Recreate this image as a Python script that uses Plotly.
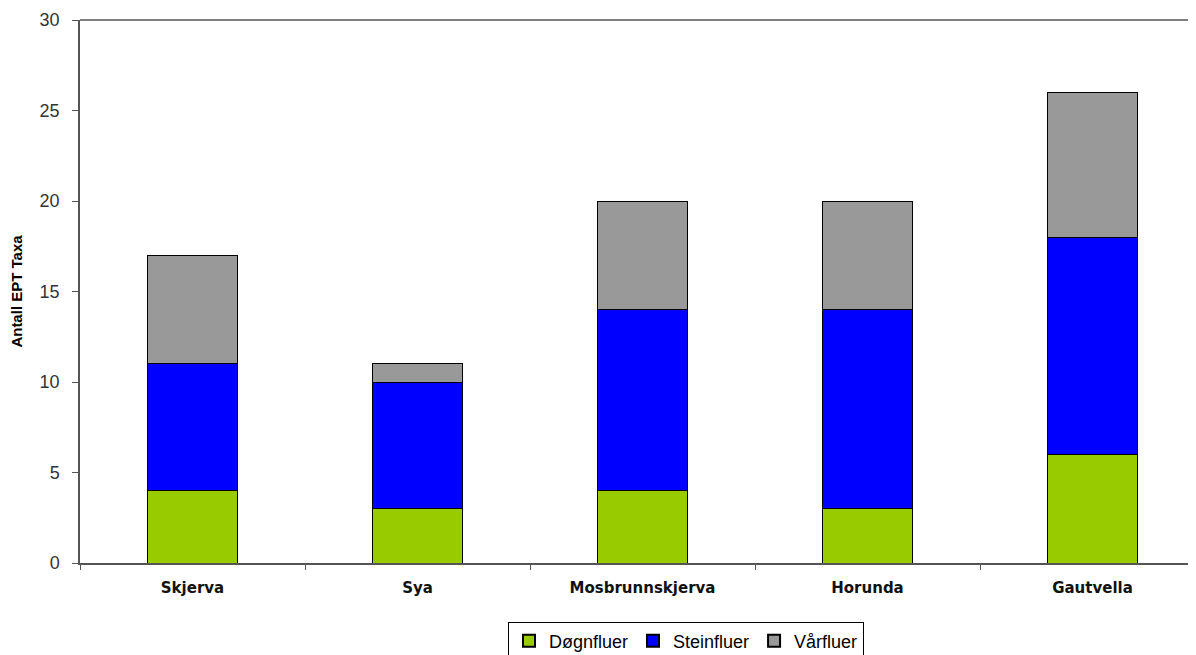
import plotly.graph_objects as go

categories = ["Skjerva", "Sya", "Mosbrunnskjerva", "Horunda", "Gautvella"]
dognfluer = [4, 3, 4, 3, 6]
steinfluer = [7, 7, 10, 11, 12]
varfluer = [6, 1, 6, 6, 8]

series = [
    ("Døgnfluer", dognfluer, "#99CC00"),
    ("Steinfluer", steinfluer, "#0000FF"),
    ("Vårfluer", varfluer, "#999999"),
]

fig = go.Figure()
for name, vals, col in series:
    fig.add_trace(go.Bar(
        x=categories, y=vals, name=name,
        marker=dict(color=col, line=dict(color="#000000", width=1)),
        width=0.4,
    ))

# the page body has an 8px default margin, so the figure is sized to fit the window
fig.update_layout(
    barmode="stack",
    width=1188, height=647,
    margin=dict(l=72, r=0, t=12, b=92, autoexpand=False),
    plot_bgcolor="white", paper_bgcolor="white",
    font=dict(family="Liberation Sans, Arial, sans-serif", color="#000000"),
    showlegend=True,
    legend=dict(
        orientation="h", x=0.543, xanchor="center", y=-0.108, yanchor="top",
        bordercolor="#000000", borderwidth=1,
        font=dict(size=18, color="#000000"),
        itemsizing="constant", traceorder="normal",
        itemwidth=30, tracegroupgap=0,
    ),
    xaxis=dict(
        range=[-0.5, 4.46], showline=True, linecolor="#555555", linewidth=1.5,
        ticks="outside", tickson="boundaries", ticklen=5, tickcolor="#555555",
        ticklabelstandoff=10, automargin=False,
        tickfont=dict(size=15, family="DejaVu Sans, Verdana, sans-serif", weight="bold", color="#111111"),
        showgrid=False, fixedrange=True,
    ),
    yaxis=dict(
        range=[0, 30], dtick=5, showline=True, linecolor="#555555", linewidth=1.5,
        ticks="outside", ticklen=6, tickcolor="#555555", ticklabelstandoff=9,
        tickfont=dict(size=18, color="#333333"), automargin=False,
        showgrid=False, zeroline=False,
        title=dict(text="<b>Antall EPT Taxa</b>", font=dict(size=15), standoff=16),
    ),
)

fig.add_shape(type="line", xref="paper", yref="paper", x0=0, x1=1, y0=1, y1=1,
              line=dict(color="#555555", width=1.5))

fig.write_html("out.html")
